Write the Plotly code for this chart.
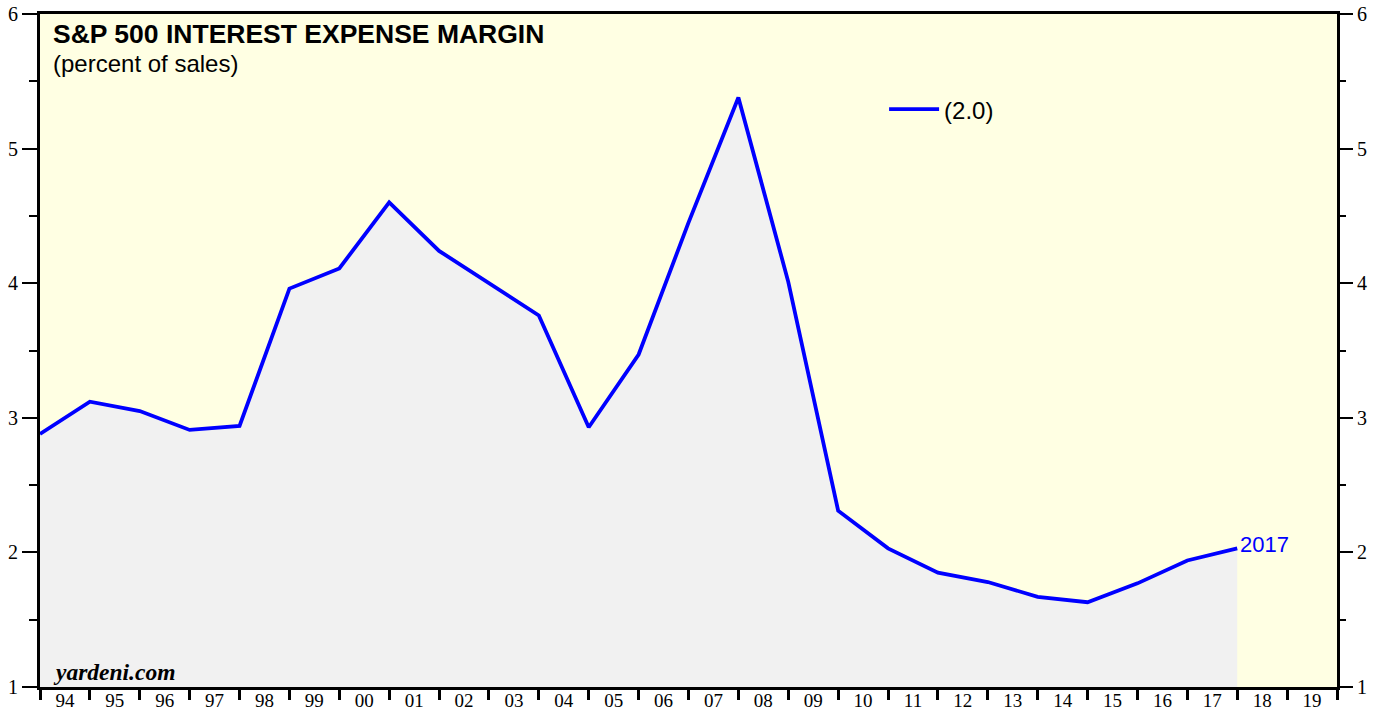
import plotly.graph_objects as go

# Annual values (plotted at year-end positions)
years = list(range(1993, 2018))
margin = [2.88, 3.12, 3.05, 2.91, 2.94, 3.96, 4.11, 4.60, 4.24, 4.00, 3.76, 2.93,
          3.47, 4.45, 5.38, 4.01, 2.31, 2.03, 1.85, 1.78, 1.67, 1.63, 1.77, 1.94, 2.03]
tick_labels = ["94", "95", "96", "97", "98", "99", "00", "01", "02", "03", "04", "05", "06",
               "07", "08", "09", "10", "11", "12", "13", "14", "15", "16", "17", "18", "19"]
label_years = list(range(1994, 2020))

xpos = [y + 1 for y in years]  # year-end position

fig = go.Figure()
fig.add_trace(go.Scatter(x=xpos, y=margin, mode="lines", line=dict(width=0),
                         fill="tozeroy", fillcolor="#F1F1F1", showlegend=False,
                         hoverinfo="skip"))
fig.add_trace(go.Scatter(x=xpos, y=margin, mode="lines", name="(2.0)",
                         line=dict(color="#0000FF", width=3.8)))
# invisible trace to activate overlay axes
fig.add_trace(go.Scatter(x=[1994], y=[1], xaxis="x2", yaxis="y2", mode="markers",
                         marker=dict(opacity=0), showlegend=False, hoverinfo="skip"))

serif = "Liberation Serif"
sans = "Liberation Sans"

fig.update_layout(
    width=1382, height=715,
    margin=dict(l=40, r=45, t=14, b=28),
    paper_bgcolor="white",
    plot_bgcolor="#FFFFE3",
    xaxis=dict(range=[1994, 2020], tickvals=list(range(1994, 2021)), showticklabels=False,
               ticks="outside", ticklen=10, tickwidth=3, tickcolor="black", automargin=False,
               showgrid=False, zeroline=False, showline=True, linewidth=3, linecolor="black",
               mirror=True),
    xaxis2=dict(range=[1994, 2020], overlaying="x", side="bottom", anchor="y",
                tickvals=[y + 0.5 for y in label_years], ticktext=tick_labels,
                ticks="", automargin=False,
                tickfont=dict(family=serif, size=19, color="black"),
                showgrid=False, zeroline=False, showline=False),
    yaxis=dict(range=[1, 6], tickvals=[1, 2, 3, 4, 5, 6], ticks="outside", ticklen=15,
               tickwidth=1.5, tickcolor="black", automargin=False,
               minor=dict(tickvals=[1.5, 2.5, 3.5, 4.5, 5.5], ticks="outside", ticklen=8,
                          tickwidth=1.5, tickcolor="black", showgrid=False),
               tickfont=dict(family=serif, size=20, color="black"),
               showgrid=False, zeroline=False, showline=True, linewidth=3, linecolor="black",
               mirror=True),
    yaxis2=dict(range=[1, 6], overlaying="y", side="right", anchor="x",
                tickvals=[1, 2, 3, 4, 5, 6], ticks="outside", ticklen=15,
                tickwidth=1.5, tickcolor="black", automargin=False,
                minor=dict(tickvals=[1.5, 2.5, 3.5, 4.5, 5.5], ticks="outside", ticklen=8,
                           tickwidth=1.5, tickcolor="black", showgrid=False),
                tickfont=dict(family=serif, size=20, color="black"),
                showgrid=False, zeroline=False, showline=False),
    legend=dict(x=0.6508, y=0.858, xanchor="left", yanchor="middle", itemwidth=50,
                bgcolor="rgba(0,0,0,0)", font=dict(family=sans, size=24, color="black")),
    annotations=[
        dict(text="<b>S&P 500 INTEREST EXPENSE MARGIN</b>", xref="paper", yref="paper",
             x=0.0085, y=0.995, xanchor="left", yanchor="top", showarrow=False,
             font=dict(family=sans, size=26.5, color="black")),
        dict(text="(percent of sales)", xref="paper", yref="paper",
             x=0.0085, y=0.95, xanchor="left", yanchor="top", showarrow=False,
             font=dict(family=sans, size=24, color="black")),
        dict(text="<b><i>yardeni.com</i></b>", xref="paper", yref="paper",
             x=0.0085, y=0.0, xanchor="left", yanchor="bottom", showarrow=False,
             font=dict(family=serif, size=23.5, color="black")),
        dict(text="2017", x=xpos[-1], y=margin[-1], xref="x", yref="y",
             xanchor="left", yanchor="middle", xshift=1, yshift=4, showarrow=False,
             font=dict(family=sans, size=22, color="#0000FF")),
    ],
)

fig.write_html("out.html", config={"displayModeBar": False},
               post_script="document.body.style.margin='0';")
